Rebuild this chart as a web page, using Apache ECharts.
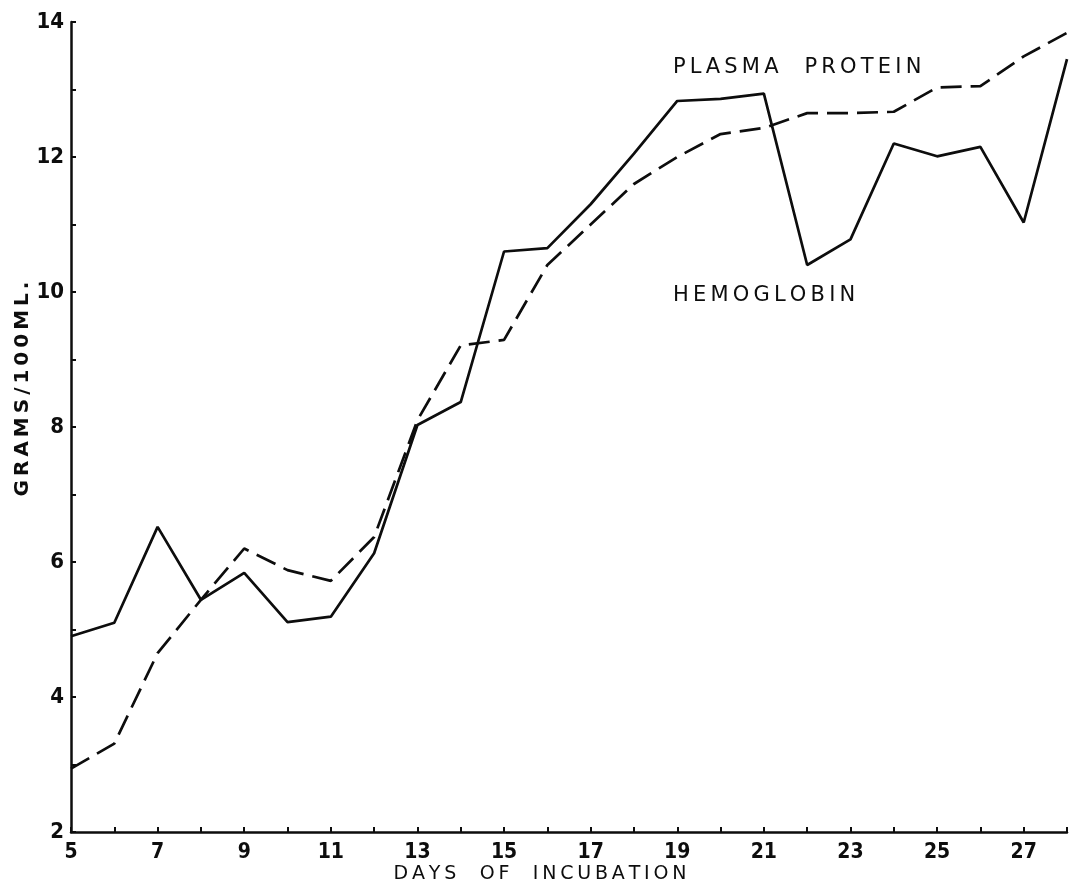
<!DOCTYPE html>
<html>
<head>
<meta charset="utf-8">
<title>Hemoglobin and plasma protein during incubation</title>
<script src="https://cdn.jsdelivr.net/npm/echarts@6/dist/echarts.min.js"></script>
<style>
  html, body { margin: 0; padding: 0; background: #ffffff; }
  #chart { width: 1079px; height: 889px; }
</style>
</head>
<body>
<div id="chart"></div>
<script>
// Days of incubation
const days = [5, 6, 7, 8, 9, 10, 11, 12, 13, 14, 15, 16, 17, 18, 19, 20, 21, 22, 23, 24, 25, 26, 27, 28];

// Hemoglobin, grams per 100 ml (solid line)
const hemoglobin = [4.90, 5.10, 6.52, 5.44, 5.84, 5.11, 5.19, 6.13, 8.03, 8.37, 10.60, 10.65, 11.30, 12.05, 12.83, 12.86, 12.94, 10.40, 10.78, 12.20, 12.01, 12.15, 11.03, 13.45];

// Plasma protein, grams per 100 ml (dashed line)
const plasmaProtein = [2.94, 3.31, 4.65, 5.44, 6.20, 5.88, 5.72, 6.37, 8.10, 9.21, 9.29, 10.40, 11.00, 11.60, 12.00, 12.34, 12.43, 12.65, 12.65, 12.67, 13.03, 13.05, 13.49, 13.84];

// Labelled ticks
const xTickLabels = [5, 7, 9, 11, 13, 15, 17, 19, 21, 23, 25, 27];
const yTickLabels = [2, 4, 6, 8, 10, 12, 14];

// Texts
const xTitle = 'DAYS  OF  INCUBATION';
const yTitle = 'GRAMS/100ML.';
const plasmaLabel = 'PLASMA  PROTEIN';
const hemoLabel = 'HEMOGLOBIN';

const ink = '#0d0d0d';
const font = '"DejaVu Sans Condensed", "Liberation Sans Narrow", "DejaVu Sans", sans-serif';
const labelFont = '"DejaVu Sans", "Liberation Sans", sans-serif';

// Spread the lettering a little, typewriter style, with thin spaces
const spaced = (s) => s.split('').join('\u2009');

const pairs = (ys) => days.map((d, i) => [d, ys[i]]);

const chart = echarts.init(document.getElementById('chart'), null, { renderer: 'canvas' });

chart.setOption({
  animation: false,
  backgroundColor: '#ffffff',
  grid: { left: 71, right: 12, top: 22, bottom: 57, containLabel: false },
  xAxis: {
    type: 'value',
    min: 5,
    max: 28,
    interval: 1,
    axisLine: { lineStyle: { color: ink, width: 2.5 } },
    axisTick: { inside: true, length: 5, lineStyle: { color: ink, width: 2 } },
    splitLine: { show: false },
    axisLabel: {
      color: ink,
      fontFamily: font,
      fontSize: 21,
      fontWeight: 'bold',
      margin: 10,
      formatter: (v) => (xTickLabels.includes(v) ? String(v) : '')
    }
  },
  yAxis: {
    type: 'value',
    min: 2,
    max: 14,
    interval: 1,
    axisLine: { show: true, lineStyle: { color: ink, width: 2.5 } },
    axisTick: { show: true, inside: true, length: 5, lineStyle: { color: ink, width: 2 } },
    splitLine: { show: false },
    axisLabel: {
      color: ink,
      fontFamily: font,
      fontSize: 22,
      fontWeight: 'bold',
      margin: 7,
      formatter: (v) => (yTickLabels.includes(v) ? String(v) : '')
    }
  },
  series: [
    {
      name: 'HEMOGLOBIN',
      type: 'line',
      data: pairs(hemoglobin),
      showSymbol: false,
      symbol: 'none',
      lineStyle: { color: ink, width: 2.7, type: 'solid' },
      z: 3
    },
    {
      name: 'PLASMA PROTEIN',
      type: 'line',
      data: pairs(plasmaProtein),
      showSymbol: false,
      symbol: 'none',
      lineStyle: { color: ink, width: 2.7, type: [21, 9] },
      z: 2
    }
  ],
  graphic: [
    {
      type: 'text',
      x: 540,
      y: 874,
      style: {
        text: spaced(xTitle),
        fill: ink,
        font: 'normal 19px ' + labelFont,
        align: 'center',
        verticalAlign: 'middle'
      }
    },
    {
      type: 'text',
      x: 23,
      y: 389,
      rotation: Math.PI / 2,
      style: {
        text: spaced(yTitle),
        fill: ink,
        font: 'bold 20px ' + labelFont,
        align: 'center',
        verticalAlign: 'middle'
      }
    },
    {
      type: 'text',
      x: 673,
      y: 68,
      style: {
        text: spaced(plasmaLabel),
        fill: ink,
        font: 'normal 21px ' + labelFont,
        align: 'left',
        verticalAlign: 'middle'
      }
    },
    {
      type: 'text',
      x: 673,
      y: 296,
      style: {
        text: spaced(hemoLabel),
        fill: ink,
        font: 'normal 21px ' + labelFont,
        align: 'left',
        verticalAlign: 'middle'
      }
    }
  ]
});
</script>
</body>
</html>
